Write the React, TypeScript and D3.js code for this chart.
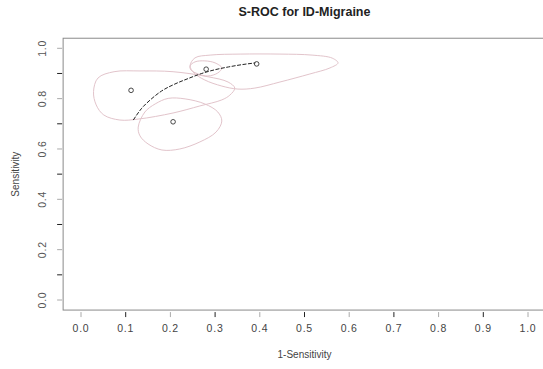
import * as d3 from 'd3';
import React, { useRef, useEffect } from 'react';

const W = 543;
const H = 369;

// plot box (R style, 4% padding around [0,1])
const xRange = [81, 528];
const yRange = [300, 48.3];

const xTicks = [0, 0.1, 0.2, 0.3, 0.4, 0.5, 0.6, 0.7, 0.8, 0.9, 1.0];
const yTicks = [0, 0.1, 0.2, 0.3, 0.4, 0.5, 0.6, 0.7, 0.8, 0.9, 1.0];
const yLabels = [0, 0.2, 0.4, 0.6, 0.8, 1.0];

// study estimates (1-specificity, sensitivity)
const studyFpr = [0.112, 0.206, 0.28, 0.393];
const studySens = [0.833, 0.708, 0.917, 0.938];

// summary ROC curve
const srocFpr = [0.117, 0.135, 0.155, 0.18, 0.21, 0.24, 0.27, 0.3, 0.33, 0.36, 0.39];
const srocSens = [0.715, 0.76, 0.795, 0.83, 0.858, 0.88, 0.9, 0.915, 0.926, 0.935, 0.942];

// confidence regions
const regionA: [number, number][] = [
  [0.028, 0.828], [0.038, 0.882], [0.074, 0.907], [0.132, 0.91], [0.206, 0.907],
  [0.284, 0.887], [0.329, 0.866], [0.344, 0.842], [0.333, 0.814], [0.315, 0.795],
  [0.266, 0.771], [0.206, 0.743], [0.129, 0.719], [0.087, 0.715], [0.051, 0.735],
  [0.034, 0.775],
];
const regionB: [number, number][] = [
  [0.128, 0.687], [0.143, 0.747], [0.166, 0.779], [0.195, 0.801], [0.233, 0.799],
  [0.277, 0.779], [0.306, 0.747], [0.315, 0.711], [0.302, 0.667], [0.266, 0.628],
  [0.221, 0.6], [0.181, 0.596], [0.15, 0.62], [0.132, 0.652],
];
const regionC: [number, number][] = [
  [0.244, 0.93], [0.255, 0.946], [0.277, 0.95], [0.3, 0.942], [0.315, 0.922],
  [0.306, 0.902], [0.284, 0.89], [0.262, 0.898], [0.246, 0.914],
];
const regionD: [number, number][] = [
  [0.244, 0.93], [0.255, 0.962], [0.289, 0.973], [0.356, 0.977], [0.445, 0.977],
  [0.517, 0.973], [0.562, 0.961], [0.575, 0.942], [0.557, 0.922], [0.512, 0.898],
  [0.445, 0.866], [0.389, 0.842], [0.351, 0.838], [0.315, 0.85], [0.277, 0.874],
  [0.253, 0.902],
];
const regions = [regionA, regionB, regionC, regionD];

const SROC = () => {
  const containerRef = useRef<HTMLDivElement>(null);

  useEffect(() => {
    if (!containerRef.current) return;
    const root = d3.select(containerRef.current);
    root.selectAll('*').remove();

    const svg = root
      .append('svg')
      .attr('width', W)
      .attr('height', H)
      .style('position', 'absolute')
      .style('left', 0)
      .style('top', 0)
      .style('background', '#fff')
      .style('font-family', '"Liberation Sans", Arial, sans-serif');

    const x = d3.scaleLinear().domain([0, 1]).range(xRange);
    const y = d3.scaleLinear().domain([0, 1]).range(yRange);

    const left = x(-0.04);
    const right = x(1.04);
    const top = y(1.04);
    const bottom = y(-0.04);

    // box
    svg
      .append('rect')
      .attr('x', left)
      .attr('y', top)
      .attr('width', right - left)
      .attr('height', bottom - top)
      .attr('fill', 'none')
      .attr('stroke', '#8a8a8a')
      .attr('stroke-width', 1);

    const tickColor = (i: number) => (i % 2 === 1 ? '#222' : '#aaa');

    // x axis
    const xAxis = svg.append('g');
    xTicks.forEach((t, i) => {
      xAxis
        .append('line')
        .attr('x1', x(t))
        .attr('x2', x(t))
        .attr('y1', bottom + 2)
        .attr('y2', bottom + 7)
        .attr('stroke', tickColor(i));
      xAxis
        .append('text')
        .attr('x', x(t))
        .attr('y', bottom + 22)
        .attr('text-anchor', 'middle')
        .attr('font-size', 10.5)
        .attr('letter-spacing', 0.8)
        .attr('fill', '#444')
        .text(d3.format('.1f')(t));
    });

    // y axis
    const yAxis = svg.append('g');
    yTicks.forEach((t, i) => {
      yAxis
        .append('line')
        .attr('x1', left - 6)
        .attr('x2', left - 1)
        .attr('y1', y(t))
        .attr('y2', y(t))
        .attr('stroke', tickColor(i));
    });
    yLabels.forEach((t) => {
      yAxis
        .append('text')
        .attr('transform', `translate(${left - 21},${y(t)}) rotate(-90)`)
        .attr('text-anchor', 'middle')
        .attr('dy', '0.35em')
        .attr('font-size', 10.5)
        .attr('letter-spacing', 0.8)
        .attr('fill', '#555')
        .text(d3.format('.1f')(t));
    });

    // titles
    svg
      .append('text')
      .attr('x', (left + right) / 2)
      .attr('y', 16)
      .attr('text-anchor', 'middle')
      .attr('font-size', 12.5)
      .attr('font-weight', 'bold')
      .attr('fill', '#222')
      .text('S-ROC for ID-Migraine');

    svg
      .append('text')
      .attr('x', (left + right) / 2)
      .attr('y', 358)
      .attr('text-anchor', 'middle')
      .attr('font-size', 10)
      .attr('fill', '#444')
      .text('1-Sensitivity');

    svg
      .append('text')
      .attr('transform', `translate(19,${(top + bottom) / 2}) rotate(-90)`)
      .attr('text-anchor', 'middle')
      .attr('font-size', 10)
      .attr('fill', '#444')
      .text('Sensitivity');

    // confidence regions
    const regionLine = d3
      .line<[number, number]>()
      .x((d) => x(d[0]))
      .y((d) => y(d[1]))
      .curve(d3.curveCatmullRomClosed);

    svg
      .append('g')
      .selectAll('path')
      .data(regions)
      .join('path')
      .attr('d', (d) => regionLine(d))
      .attr('fill', 'none')
      .attr('stroke', '#e2c4cb')
      .attr('stroke-width', 1);

    // SROC curve
    const srocLine = d3
      .line<number>()
      .x((d) => x(d))
      .y((_, i) => y(srocSens[i]))
      .curve(d3.curveMonotoneX);

    svg
      .append('path')
      .attr('d', srocLine(srocFpr))
      .attr('fill', 'none')
      .attr('stroke', '#222')
      .attr('stroke-width', 1)
      .attr('stroke-dasharray', '4 1.5');

    // study points
    svg
      .append('g')
      .selectAll('circle')
      .data(studyFpr)
      .join('circle')
      .attr('cx', (d) => x(d))
      .attr('cy', (_, i) => y(studySens[i]))
      .attr('r', 2.3)
      .attr('fill', 'none')
      .attr('stroke', '#333')
      .attr('stroke-width', 0.9);
  }, [containerRef]);

  return <div ref={containerRef}></div>;
};

export default function App() {
  return <SROC />;
}
